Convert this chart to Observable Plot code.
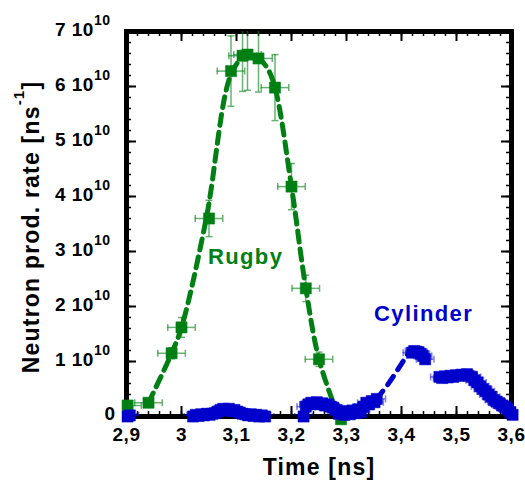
<!DOCTYPE html>
<html>
<head>
<meta charset="utf-8">
<script src="https://cdn.jsdelivr.net/npm/d3@7"></script>
<script src="https://cdn.jsdelivr.net/npm/@observablehq/plot@0.6"></script>
<style>
html, body { margin: 0; padding: 0; background: #fff; }
#chart svg { display: block; }
</style>
</head>
<body>
<div id="chart"></div>
<script>
// ---------- data (rates in units of 10^10 ns^-1, time in ns) ----------
const rugbyTime    = [2.902, 2.94, 2.982, 3.0, 3.05, 3.09, 3.111, 3.12, 3.14, 3.17, 3.2, 3.226, 3.25, 3.29];
const rugbyRate    = [0.2, 0.25, 1.15, 1.62, 3.6, 6.28, 6.56, 6.58, 6.51, 5.98, 4.18, 2.33, 1.04, -0.05];
const rugbyErrRate = [0.05, 0.05, 0.1, 0.18, 0.33, 0.64, 0.65, 0.65, 0.61, 0.6, 0.42, 0.24, 0.13, 0.05];
const rugbyErrTime = [0.025, 0.025, 0.025, 0.025, 0.025, 0.025, 0.025, 0.025, 0.025, 0.025, 0.025, 0.025, 0.025, 0.025];

const rugbyFitTime = [2.94, 2.982, 3.0, 3.045, 3.09, 3.115, 3.135, 3.155, 3.17, 3.2, 3.226, 3.25, 3.285];
const rugbyFitRate = [0.25, 1.15, 1.62, 3.6, 6.22, 6.55, 6.55, 6.35, 5.98, 4.18, 2.33, 1.04, 0.0];

const cylTime = [2.902, 2.906,
  3.021, 3.026, 3.031, 3.036, 3.041, 3.046, 3.051, 3.056, 3.061, 3.066, 3.071, 3.076, 3.081, 3.086, 3.091, 3.096, 3.101, 3.106, 3.111, 3.116, 3.121, 3.126, 3.131, 3.136, 3.141, 3.146, 3.152,
  3.222, 3.226, 3.231, 3.236, 3.241, 3.246, 3.251, 3.256, 3.261, 3.266, 3.271, 3.276, 3.281, 3.286, 3.291, 3.296, 3.301, 3.306, 3.311, 3.316, 3.321, 3.326, 3.331, 3.336, 3.341, 3.346, 3.351, 3.355,
  3.419, 3.423, 3.427, 3.431, 3.435, 3.439, 3.443,
  3.469, 3.474, 3.479, 3.484, 3.489, 3.494, 3.499, 3.504, 3.509, 3.514, 3.519, 3.522,
  3.528, 3.533, 3.538, 3.543, 3.548, 3.553, 3.558, 3.563, 3.568, 3.573, 3.578, 3.583, 3.588, 3.593, 3.598, 3.602];
const cylRate = [0.00, 0.02,
  0.00, 0.03, 0.01, 0.04, 0.02, 0.05, 0.03, 0.05, 0.06, 0.09, 0.12, 0.14, 0.11, 0.14, 0.10, 0.12, 0.09, 0.07, 0.05, 0.04, 0.02, 0.04, 0.01, 0.03, 0.00, 0.02, 0.00,
  0.00, 0.18, 0.22, 0.25, 0.23, 0.26, 0.22, 0.24, 0.20, 0.22, 0.18, 0.16, 0.12, 0.05, 0.10, 0.03, 0.08, 0.04, 0.11, 0.06, 0.13, 0.08, 0.18, 0.25, 0.22, 0.28, 0.26, 0.32,
  1.16, 1.19, 1.18, 1.17, 1.14, 1.10, 1.04,
  0.72, 0.70, 0.73, 0.71, 0.74, 0.72, 0.75, 0.74, 0.76, 0.75, 0.77, 0.74,
  0.72, 0.66, 0.62, 0.55, 0.50, 0.46, 0.40, 0.36, 0.30, 0.27, 0.24, 0.20, 0.18, 0.14, 0.08, 0.03];
const cylErrTime = 0.016;

const cylFitTime = [3.355, 3.375, 3.395, 3.413];
const cylFitRate = [0.32, 0.58, 0.88, 1.16];

const xTicks = [2.9, 3.0, 3.1, 3.2, 3.3, 3.4, 3.5, 3.6];
const xTickLabels = ["2,9", "3", "3,1", "3,2", "3,3", "3,4", "3,5", "3,6"];
const yTicks = [0, 1, 2, 3, 4, 5, 6, 7];
const yTickLabels = ["0", "1 10^{10}", "2 10^{10}", "3 10^{10}", "4 10^{10}", "5 10^{10}", "6 10^{10}", "7 10^{10}"];

const labelText = ["Rugby", "Cylinder"];
const labelTime = [3.048, 3.35];
const labelRate = [2.77, 1.73];

const xTitle = "Time [ns]";
const yTitle = "Neutron prod. rate [ns^{-1}]";

// ---------- build ----------
const W = 525, H = 481;
const mL = 126, mR = 14, mT = 31, mB = 65;
const iw = W - mL - mR, ih = H - mT - mB;
const green = "#008014", blue = "#0000cc";
const font = "'Liberation Sans', Arial, Helvetica, sans-serif";

const rugby = rugbyTime.map((t, i) => ({t, v: rugbyRate[i], ev: rugbyErrRate[i], et: rugbyErrTime[i]}));
const rugbyFit = rugbyFitTime.map((t, i) => ({t, v: rugbyFitRate[i]}));
const cyl = cylTime.map((t, i) => ({t, v: cylRate[i], et: cylErrTime}));
const cylFit = cylFitTime.map((t, i) => ({t, v: cylFitRate[i]}));
const xTickData = xTicks.map((t, i) => ({t, label: xTickLabels[i]}));
const yTickData = yTicks.map((v, i) => ({v, label: yTickLabels[i]}));
const xMinor = d3.range(0, 36).map(i => 2.9 + i * 0.02);
const yMinor = d3.range(0, 36).map(i => i * 0.2);

const hCap = {draw(ctx, size) { const r = Math.sqrt(size / Math.PI); ctx.moveTo(-r, 0); ctx.lineTo(r, 0); }};
const vCap = {draw(ctx, size) { const r = Math.sqrt(size / Math.PI); ctx.moveTo(0, -r); ctx.lineTo(0, r); }};

function xErr(data, color, op) {
  return [
    Plot.ruleY(data, {y: "v", x1: d => d.t - d.et, x2: d => d.t + d.et, stroke: color, strokeOpacity: op, strokeWidth: 1.5, clip: true}),
    Plot.dot(data, {x: d => d.t - d.et, y: "v", symbol: vCap, r: 3.5, stroke: color, strokeOpacity: op, strokeWidth: 1.5, fill: "none", clip: true}),
    Plot.dot(data, {x: d => d.t + d.et, y: "v", symbol: vCap, r: 3.5, stroke: color, strokeOpacity: op, strokeWidth: 1.5, fill: "none", clip: true})
  ];
}
function yErr(data, color, op) {
  return [
    Plot.ruleX(data, {x: "t", y1: d => d.v - d.ev, y2: d => d.v + d.ev, stroke: color, strokeOpacity: op, strokeWidth: 1.5, clip: true}),
    Plot.dot(data, {x: "t", y: d => d.v - d.ev, symbol: hCap, r: 3.5, stroke: color, strokeOpacity: op, strokeWidth: 1.5, fill: "none", clip: true}),
    Plot.dot(data, {x: "t", y: d => d.v + d.ev, symbol: hCap, r: 3.5, stroke: color, strokeOpacity: op, strokeWidth: 1.5, fill: "none", clip: true})
  ];
}

const textCommon = {fontWeight: "bold", fill: "black"};

const svg = Plot.plot({
  width: W, height: H,
  marginLeft: mL, marginRight: mR, marginTop: mT, marginBottom: mB,
  style: {fontFamily: font, background: "white", overflow: "visible"},
  x: {domain: [2.9, 3.6], axis: null},
  y: {domain: [0, 7], axis: null},
  marks: [
    Plot.frame({stroke: "black", strokeWidth: 5}),
    // ticks (inward, all four sides)
    Plot.ruleX(xMinor, {x: d => d, insetTop: ih - 5, stroke: "black", strokeWidth: 1.5}),
    Plot.ruleX(xMinor, {x: d => d, insetBottom: ih - 5, stroke: "black", strokeWidth: 1.5}),
    Plot.ruleX(xTicks, {x: d => d, insetTop: ih - 10, stroke: "black", strokeWidth: 2}),
    Plot.ruleX(xTicks, {x: d => d, insetBottom: ih - 10, stroke: "black", strokeWidth: 2}),
    Plot.ruleY(yMinor, {y: d => d, insetRight: iw - 5, stroke: "black", strokeWidth: 1.5}),
    Plot.ruleY(yMinor, {y: d => d, insetLeft: iw - 5, stroke: "black", strokeWidth: 1.5}),
    Plot.ruleY(yTicks, {y: d => d, insetRight: iw - 10, stroke: "black", strokeWidth: 2}),
    Plot.ruleY(yTicks, {y: d => d, insetLeft: iw - 10, stroke: "black", strokeWidth: 2}),
    // tick labels
    Plot.text(xTickData, {x: "t", text: "label", frameAnchor: "bottom", dy: 24, lineAnchor: "bottom", fontSize: 19, ...textCommon}),
    Plot.text(yTickData.filter(d => d.v === 0), {y: "v", text: "label", frameAnchor: "left", dx: -11, dy: 3, textAnchor: "end", lineAnchor: "bottom", fontSize: 19, ...textCommon}),
    Plot.text(yTickData.filter(d => d.v !== 0), {y: "v", text: "label", frameAnchor: "left", dx: -16, dy: 4, textAnchor: "end", lineAnchor: "bottom", fontSize: 19, ...textCommon}),
    // axis titles
    Plot.text([xTitle], {text: d => d, frameAnchor: "bottom", dy: 58, lineAnchor: "bottom", fontSize: 23, ...textCommon}),
    Plot.text([yTitle], {text: d => d, frameAnchor: "left", dx: -88, dy: 3, rotate: -90, lineAnchor: "bottom", textAnchor: "middle", fontSize: 23, ...textCommon}),
    // Rugby
    ...yErr(rugby, green, 0.6),
    ...xErr(rugby, green, 0.6),
    Plot.line(rugbyFit, {x: "t", y: "v", curve: "catmull-rom", stroke: green, strokeWidth: 5, strokeDasharray: "11,7"}),
    Plot.dot(rugby, {x: "t", y: "v", symbol: "square", r: 6.3, fill: green, stroke: green, strokeWidth: 0.5}),
    // Cylinder
    ...xErr(cyl, blue, 0.5),
    Plot.line(cylFit, {x: "t", y: "v", curve: "catmull-rom", stroke: blue, strokeWidth: 5, strokeDasharray: "10,8"}),
    Plot.dot(cyl, {x: "t", y: "v", symbol: "square", r: 6.3, fill: blue, stroke: blue, strokeWidth: 0.5}),
    // annotations
    Plot.text([0], {x: () => labelTime[0], y: () => labelRate[0], text: () => labelText[0], textAnchor: "start", lineAnchor: "bottom", fontSize: 22, fontWeight: "bold", fill: green}),
    Plot.text([1], {x: () => labelTime[1], y: () => labelRate[1], text: () => labelText[1], textAnchor: "start", lineAnchor: "bottom", fontSize: 22, fontWeight: "bold", fill: blue})
  ]
});

// superscripts and letter spacing
const s = d3.select(svg);
s.selectAll("text").each(function () {
  const str = this.textContent;
  const m = str.match(/^(.*)\^\{(.*?)\}(.*)$/);
  if (!m) return;
  const isTitle = str.startsWith("Neutron");
  const size = isTitle ? 15 : 14;
  const raise = isTitle ? 15 : 11;
  const el = d3.select(this);
  el.text(null);
  el.append("tspan").text(m[1]);
  el.append("tspan").attr("dy", -raise).attr("font-size", size).text(m[2]);
  if (m[3]) el.append("tspan").attr("dy", raise).text(m[3]);
});
s.selectAll("g[font-size='23'] text").style("letter-spacing", "1.2px");
s.selectAll("g[font-size='22'] text").style("letter-spacing", "1.4px");
s.selectAll("g[font-size='19'] text").style("letter-spacing", "0.5px");

document.getElementById("chart").appendChild(svg);
</script>
</body>
</html>
